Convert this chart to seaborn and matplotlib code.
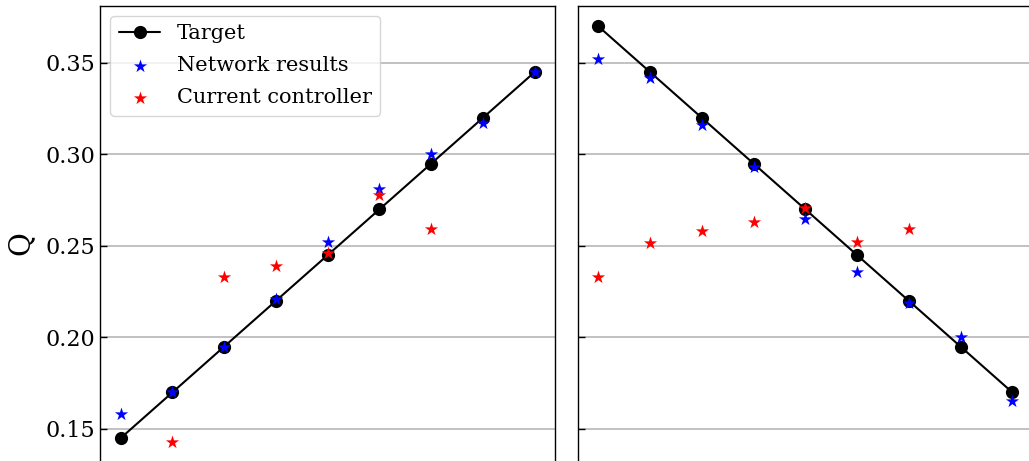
import numpy as np
import matplotlib
matplotlib.use("Agg")
import matplotlib.pyplot as plt
import seaborn as sns

# Step index along each sweep
steps = list(range(9))

# Left sweep (increasing Q)
target_up = [0.145, 0.170, 0.195, 0.220, 0.245, 0.270, 0.295, 0.320, 0.345]
network_up = [0.158, 0.170, 0.195, 0.221, 0.252, 0.281, 0.300, 0.317, 0.345]
controller_up = [np.nan, 0.143, 0.233, 0.239, 0.246, 0.278, 0.259, np.nan, np.nan]

# Right sweep (decreasing Q)
target_down = [0.370, 0.345, 0.320, 0.295, 0.270, 0.245, 0.220, 0.195, 0.170]
network_down = [0.352, 0.342, 0.316, 0.293, 0.265, 0.236, 0.219, 0.200, 0.165]
controller_down = [0.233, 0.2515, 0.258, 0.263, 0.271, 0.252, 0.2595, np.nan, np.nan]

sns.set_style("ticks")
plt.rcParams["font.family"] = ["DejaVu Serif"]
plt.rcParams["mathtext.fontset"] = "dejavuserif"
for key in ("text.color", "axes.labelcolor", "xtick.color", "ytick.color",
            "axes.edgecolor"):
    plt.rcParams[key] = "black"

W, H = 1029, 461
fig = plt.figure(figsize=(W / 100, H / 100), dpi=100)

bottom_px, top_px = 480, 5.7
ax_h = (bottom_px - top_px) / H
ax_b = (H - bottom_px) / H
ax_w = 455.3 / W
ax1 = fig.add_axes([100 / W, ax_b, ax_w, ax_h])
ax2 = fig.add_axes([577.7 / W, ax_b, ax_w, ax_h], sharey=ax1)


def draw(ax, target, network, controller):
    sns.lineplot(x=steps, y=target, ax=ax, color="black", marker="o",
                 markersize=9.5, linewidth=1.5, markeredgewidth=0,
                 label="Target", legend=False, zorder=3)
    sns.scatterplot(x=steps, y=network, ax=ax, color="blue", marker="*",
                    s=100, linewidth=0, label="Network results",
                    legend=False, zorder=4)
    sns.scatterplot(x=steps, y=controller, ax=ax, color="red", marker="*",
                    s=100, linewidth=0, label="Current controller",
                    legend=False, zorder=5)
    ax.set_xlim(-0.4, 8.4)
    ax.yaxis.grid(True, color="#b0b0b0", linewidth=1.1)
    ax.xaxis.grid(False)
    ax.set_axisbelow(True)
    ax.tick_params(direction="in", length=5, width=1, labelsize=16,
                   colors="black")
    ax.tick_params(axis="x", labelbottom=False)
    for sp in ax.spines.values():
        sp.set_visible(True)
        sp.set_color("black")
        sp.set_linewidth(1.0)
    ax.set_xlabel("")


draw(ax1, target_up, network_up, controller_up)
draw(ax2, target_down, network_down, controller_down)

ax1.set_ylim(0.1221, 0.3813)
ax1.set_yticks([0.15, 0.20, 0.25, 0.30, 0.35])
ax1.set_yticklabels(["0.15", "0.20", "0.25", "0.30", "0.35"])
ax1.set_ylabel("Q", fontsize=21, labelpad=8)
ax2.tick_params(labelleft=False)

ax1.legend(loc="upper left", fontsize=15, frameon=True, framealpha=0.8,
           edgecolor="#cccccc", borderaxespad=0.5, labelspacing=0.62)

fig.savefig("out.png", dpi=100)
